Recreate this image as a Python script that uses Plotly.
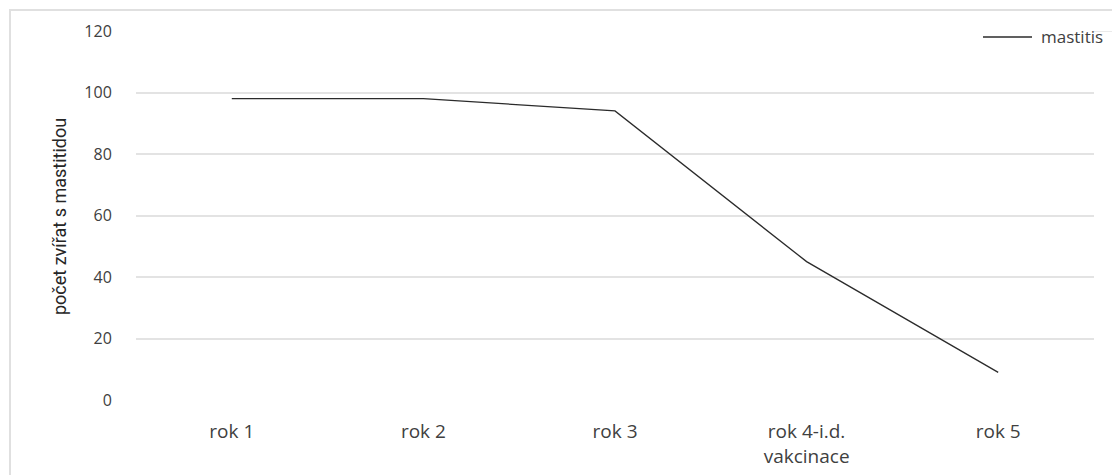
import plotly.graph_objects as go

# Yearly counts of animals with mastitis
categories = ["rok 1", "rok 2", "rok 3", "rok 4-i.d.<br>vakcinace", "rok 5"]
mastitis = [98, 98, 94, 45, 9]
y_ticks = [0, 20, 40, 60, 80, 100, 120]

fig = go.Figure()
fig.add_trace(go.Scatter(
    x=categories, y=mastitis, mode="lines", name="mastitis",
    line=dict(color="#2b2b2b", width=1.3), showlegend=False,
))

L, R, T, B = 136, 18, 31, 75
W, H = 1112, 475
pw = W - L - R
ph = H - T - B


def px_x(x):
    return (x - L) / pw


def px_y(y):
    return (H - B - y) / ph


fig.update_layout(
    width=W, height=H,
    margin=dict(l=L, r=R, t=T, b=B),
    paper_bgcolor="white", plot_bgcolor="white",
    font=dict(family="Open Sans, Lato, sans-serif", color="#404040"),
    showlegend=False,
    xaxis=dict(
        type="category", range=[-0.5, len(categories) - 0.5],
        showgrid=False, zeroline=False, showline=False, automargin=False,
        ticks="outside", ticklen=14, tickcolor="rgba(0,0,0,0)",
        tickfont=dict(size=19, color="#404040"),
        fixedrange=True,
    ),
    yaxis=dict(
        range=[0, 120], tickvals=y_ticks, showgrid=True, gridcolor="#e3e3e3",
        gridwidth=1.5, zeroline=False, showline=False, automargin=False,
        ticks="outside", ticklen=20, tickcolor="rgba(0,0,0,0)",
        tickfont=dict(size=16, color="#404040"),
    ),
)

# Y axis title
fig.add_annotation(
    text="počet zvířat s mastitidou", textangle=-90, showarrow=False,
    xref="paper", yref="paper", x=px_x(59), y=px_y(217),
    xanchor="center", yanchor="middle",
    font=dict(family="Roboto, Open Sans, sans-serif", size=18, color="#262626"),
)

# Legend: line sample plus series name
fig.add_shape(
    type="line", xref="paper", yref="paper",
    x0=px_x(983), x1=px_x(1032), y0=px_y(37), y1=px_y(37),
    line=dict(color="#2b2b2b", width=1.3),
)
fig.add_annotation(
    text="mastitis", showarrow=False, xref="paper", yref="paper",
    x=px_x(1039), y=px_y(37), xanchor="left", yanchor="middle",
    font=dict(size=17, color="#404040"),
)

# Top gridline continues under the legend
fig.add_shape(
    type="line", xref="paper", yref="y",
    x0=1, x1=px_x(1112), y0=120, y1=120,
    line=dict(color="#e3e3e3", width=1.5), layer="below",
)

# Chart-area frame
fig.add_shape(
    type="rect", xref="paper", yref="paper",
    x0=px_x(10), x1=px_x(1130), y0=px_y(490), y1=px_y(10),
    line=dict(color="#e0e0e0", width=2), layer="below",
)

fig.write_html("out.html")
